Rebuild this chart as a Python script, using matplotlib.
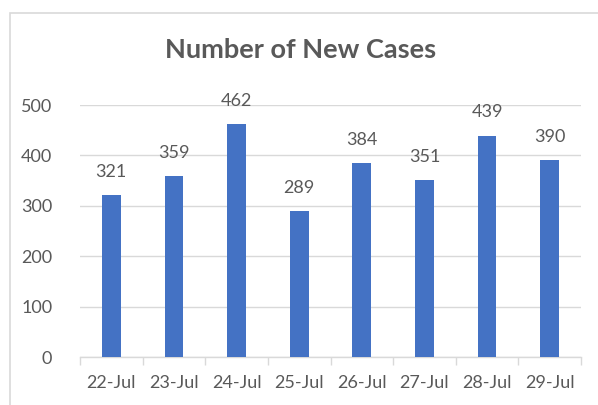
import matplotlib
matplotlib.use('Agg')
import matplotlib.pyplot as plt
from matplotlib.patches import Rectangle
import numpy as np

# data
dates = ['22-Jul', '23-Jul', '24-Jul', '25-Jul', '26-Jul', '27-Jul', '28-Jul', '29-Jul']
new_cases = [321, 359, 462, 289, 384, 351, 439, 390]

text_color = '#595959'
grid_color = '#d9d9d9'
bar_color = '#4472c4'

plt.rcParams['font.family'] = ['Lato', 'DejaVu Sans']

fig = plt.figure(figsize=(5.98, 4.05), dpi=100)
ax = fig.add_axes([80 / 598, 48 / 405, 501 / 598, 252 / 405])

# chart border (cut off at right and bottom in the reference)
fig.patches.append(Rectangle((10 / 598, -0.1), 1.2, (405 - 13) / 405 + 0.1,
                             transform=fig.transFigure, fill=False,
                             edgecolor=grid_color, linewidth=1.2))

x = np.arange(len(dates))
bars = ax.bar(x, new_cases, width=0.3, color=bar_color, zorder=3)

for xi, v in zip(x, new_cases):
    ax.annotate(str(v), (xi, v), xytext=(0, 11), textcoords='offset points',
                ha='center', va='bottom', fontsize=13, color=text_color)

ax.set_xlim(-0.5, len(dates) - 0.5)
ax.set_ylim(0, 500)
ax.set_yticks([0, 100, 200, 300, 400, 500])
ax.set_xticks(x)
ax.set_xticklabels(dates)
ax.set_xticks(np.arange(len(dates) + 1) - 0.5, minor=True)

ax.tick_params(axis='x', which='major', length=0, pad=13, labelsize=13, labelcolor=text_color)
ax.tick_params(axis='x', which='minor', length=6, color=grid_color, width=1)
ax.tick_params(axis='y', length=0, pad=20, labelsize=13, labelcolor=text_color)

ax.grid(axis='y', color=grid_color, linewidth=1, zorder=0)
for s in ['top', 'right', 'left']:
    ax.spines[s].set_visible(False)
ax.spines['bottom'].set_color(grid_color)
ax.spines['bottom'].set_linewidth(1)

fig.text(301 / 598, 1 - 50 / 405, 'Number of New Cases', ha='center', va='center',
         fontsize=19.5, fontweight='bold', color=text_color)

fig.savefig('out.png', dpi=100)
